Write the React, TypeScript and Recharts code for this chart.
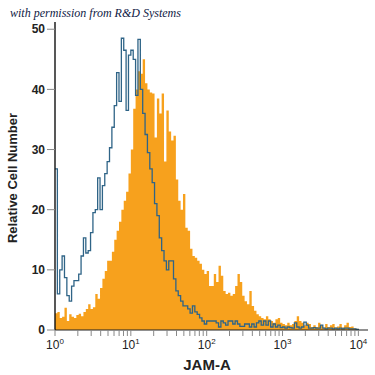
import { ComposedChart, Area, Line, XAxis, YAxis } from "recharts";

// histogram bins, 32 per decade, starting at 10^0
const BINS_PER_DECADE = 32;

const JAM_A = [
  2.8, 3, 2, 2.2, 3.7, 1.5, 2.6, 2.2, 2, 2.5, 2.7, 2.3, 3, 3.5, 4.3, 3.5,
  3.8, 6, 5.2, 7, 8.5, 9.8, 11.5, 11.5, 13, 15, 16.5, 18, 20, 21.5, 23, 26,
  30, 36.8, 40, 43, 42.6, 45, 41, 40, 39.5, 39.3, 32, 38.5, 36, 39.3, 28, 36.5,
  33, 31.5, 32.3, 25, 21.5, 20, 22.6, 17, 16.5, 13.5, 12.3, 12, 11.5, 11, 10, 9.3,
  9.8, 7.3, 7.3, 9.3, 8, 10.7, 9, 6.5, 6, 6.2, 5.7, 6, 7.3, 9.3, 8, 5.7,
  4.8, 4.3, 6.5, 4, 3.2, 2.6, 2.3, 2, 1.8, 2.3, 1.8, 1.5, 1.2, 1.8, 2, 1.2,
  1, 0.8, 1.2, 0.8, 1, 1.5, 2.3, 1.5, 1.2, 0.8, 1.2, 1, 0.5, 0.8, 0.5, 1.2,
  0.8, 0.4, 1, 0.5, 0.8, 1, 0.4, 0.6, 1, 0.4, 0.8, 1.2, 0.5, 0.6, 0.3, 0.2,
];

const ISOTYPE = [
  26.8, 6, 10, 12.3, 8.7, 5.7, 4.8, 7.3, 8.2, 8.2, 9.3, 12.3, 15.3, 12.8, 13.2, 16.2,
  19.5, 20, 25.3, 20, 24, 26, 28, 30.3, 33.7, 37.3, 42.8, 38, 48.5, 46.5, 36.5, 45.7,
  46.5, 45, 39, 48.3, 40, 36, 32.5, 29.5, 26.8, 24.5, 21, 19, 15.3, 13.2, 11.5, 10,
  11.5, 11.5, 8.5, 6.5, 5.7, 4.8, 4, 4, 3.5, 2.8, 4, 3, 2.6, 2, 1.5, 1,
  1.5, 1.5, 1.5, 1.5, 1.2, 0.5, 1.5, 1.2, 0.8, 1.5, 1.5, 1, 1.5, 1, 0.6, 0.6,
  1, 1, 0.5, 1, 0.5, 1.2, 1.5, 0.8, 1.5, 0.8, 1.5, 0.5, 1, 0.5, 0.8, 0.4,
  0.5, 0.3, 0.5, 0.4, 0.3, 1.2, 0.5, 0.3, 0.5, 1.3, 0.8, 0.3, 0.3, 0.4, 0.3, 0.3,
  0.8, 0.3, 0.2, 0.3, 0.3, 0.2, 0.3, 0.2, 0.3, 0.2, 0.3, 0.3, 0.2, 0.2, 0.2, 0.1,
];

const DECADES = [0, 1, 2, 3, 4];
const MINOR_STEPS = [2, 3, 4, 5, 6, 7, 8, 9];
const Y_TICKS = [0, 10, 20, 30, 40, 50];

const xTicks = DECADES.flatMap((d) =>
  d < 4 ? [d, ...MINOR_STEPS.map((m) => d + Math.log10(m))] : [d]
);

const data = JAM_A.map((v, i) => ({
  x: i / BINS_PER_DECADE,
  jam: v,
  iso: ISOTYPE[i],
}));
data.push({ x: JAM_A.length / BINS_PER_DECADE, jam: 0, iso: 0 });

const FONT = "'Liberation Sans Narrow', 'Arial Narrow', 'Liberation Sans', Arial, sans-serif";

function DecadeTick(props: any) {
  const { x, y, payload } = props;
  if (!Number.isInteger(payload.value)) return <g />;
  return (
    <text x={x} y={y + 11} textAnchor="middle" fontFamily={FONT} fontSize={12} fill="#222">
      <tspan>10</tspan>
      <tspan dy={-5} fontSize={8}>{payload.value}</tspan>
    </text>
  );
}

export default function App() {
  return (
    <div style={{ position: "absolute", left: 0, top: 0, width: 375, height: 375, background: "#fff" }}>
      <div
        style={{
          position: "absolute",
          left: 10,
          top: 6,
          fontFamily: "'Liberation Serif', 'DejaVu Serif', serif",
          fontStyle: "italic",
          fontSize: 12,
          color: "#0f1a45",
          zIndex: 2,
          whiteSpace: "nowrap",
        }}
      >
        with permission from R&amp;D Systems
      </div>
      <ComposedChart width={375} height={375} data={data} margin={{ top: 22, right: 7, bottom: 0, left: 10 }}>
        <XAxis
          type="number"
          dataKey="x"
          domain={[0, 4.127]}
          ticks={xTicks}
          interval={0}
          allowDataOverflow
          height={45}
          axisLine={{ stroke: "#222", strokeWidth: 1.2 }}
          tickLine={{ stroke: "#888" }}
          tickSize={6}
          tick={<DecadeTick />}
          label={{
            content: () => (
              <text x={207} y={370} textAnchor="middle" fontFamily={FONT} fontWeight="bold" fontSize={15} fill="#222">
                JAM-A
              </text>
            ),
          }}
        />
        <YAxis
          type="number"
          domain={[0, 51.2]}
          ticks={Y_TICKS}
          interval={0}
          allowDataOverflow
          width={45}
          axisLine={{ stroke: "#111", strokeWidth: 1.4 }}
          tickLine={{ stroke: "#888" }}
          tickSize={8}
          tickMargin={2}
          tick={{ fontFamily: FONT, fontWeight: "bold", fontSize: 12, fill: "#222" }}
          label={{
            content: () => (
              <text
                x={17}
                y={178}
                transform="rotate(-90 17 178)"
                textAnchor="middle"
                fontFamily={FONT}
                fontWeight="bold"
                fontSize={13}
                fill="#222"
              >
                Relative Cell Number
              </text>
            ),
          }}
        />
        <Area
          type="stepAfter"
          dataKey="jam"
          fill="#f7a11d"
          fillOpacity={1}
          stroke="none"
          isAnimationActive={false}
        />
        <Line
          type="stepAfter"
          dataKey="iso"
          stroke="#2f6487"
          strokeWidth={1.3}
          dot={false}
          isAnimationActive={false}
        />
      </ComposedChart>
    </div>
  );
}
